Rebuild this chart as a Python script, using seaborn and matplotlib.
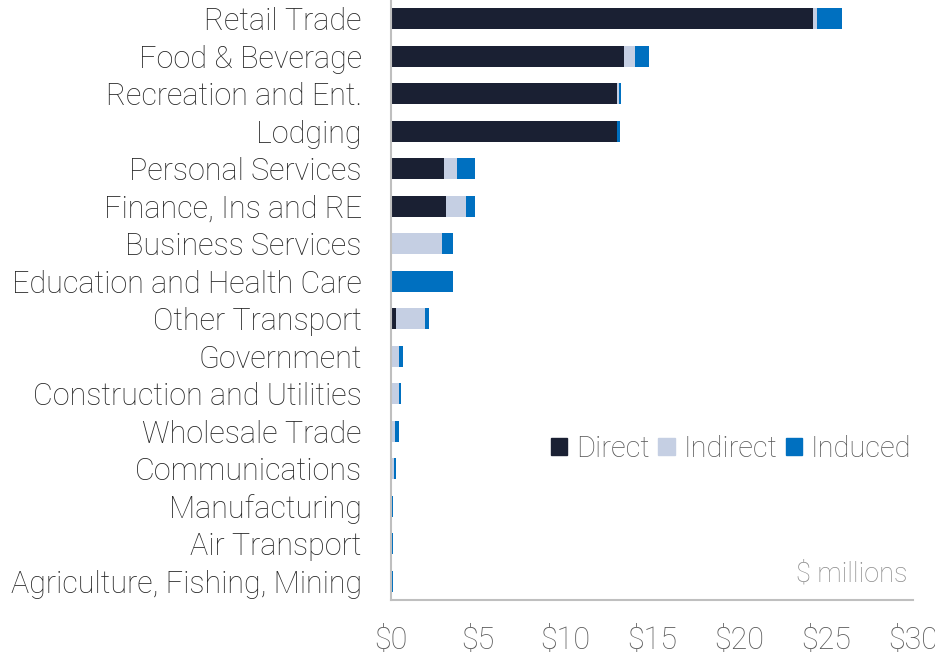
import pandas as pd
import matplotlib.pyplot as plt
import numpy as np
import seaborn as sns

# values in $ millions
sectors = ["Retail Trade", "Food & Beverage", "Recreation and Ent.", "Lodging",
           "Personal Services", "Finance, Ins and RE", "Business Services",
           "Education and Health Care", "Other Transport", "Government",
           "Construction and Utilities", "Wholesale Trade", "Communications",
           "Manufacturing", "Air Transport", "Agriculture, Fishing, Mining"]
direct = [24.27, 13.37, 12.97, 12.97, 3.04, 3.16, 0.0, 0.0, 0.29, 0.0,
          0.0, 0.0, 0.0, 0.0, 0.0, 0.0]
indirect = [0.23, 0.63, 0.11, 0.02, 0.77, 1.15, 2.93, 0.05, 1.66, 0.46,
            0.46, 0.23, 0.17, 0.05, 0.07, 0.07]
induced = [1.43, 0.86, 0.17, 0.15, 1.0, 0.52, 0.63, 3.51, 0.23, 0.23,
           0.12, 0.23, 0.12, 0.10, 0.04, 0.04]
xticks = [0, 5, 10, 15, 20, 25, 30]

c_direct = "#1a2033"
c_indirect = "#c5cfe3"
c_induced = "#0070c0"

df = pd.DataFrame({"Sector": sectors, "Direct": direct,
                   "Indirect": indirect, "Induced": induced})
df["s1"] = df["Direct"]
df["s2"] = df["s1"] + df["Indirect"]
df["s3"] = df["s2"] + df["Induced"]

sns.set_style("white")
plt.rcParams['font.family'] = ['Roboto', 'DejaVu Sans']

fig = plt.figure(figsize=(9.35, 6.57), dpi=100)
ax = fig.add_axes([0.418, 0.0868, 0.5585, 0.9132])

# stacked bars: draw totals first, then overlay the lower segments
for col, colr in [("s3", c_induced), ("s2", c_indirect), ("s1", c_direct)]:
    sns.barplot(data=df, x=col, y="Sector", color=colr, width=0.56,
                saturation=1, ax=ax, orient="h", linewidth=0)

ax.set_xlim(0, 30)
ax.set_ylim(15.5, -0.5)
ax.set_xticks(xticks)
ax.set_xticklabels(["$" + str(t) for t in xticks])
ax.set_xlabel("")
ax.set_ylabel("")
ax.tick_params(axis="x", length=0, pad=19, labelsize=22, labelcolor="#595959")
ax.tick_params(axis="y", length=0, pad=21, labelsize=22, labelcolor="#262626")
for lab in ax.get_xticklabels() + ax.get_yticklabels():
    lab.set_fontweight("light")

sns.despine(ax=ax, top=True, right=True)
ax.spines["left"].set_color("#bfbfbf")
ax.spines["bottom"].set_color("#bfbfbf")
ax.spines["left"].set_linewidth(1.5)
ax.spines["bottom"].set_linewidth(1.5)

handles = [plt.Rectangle((0, 0), 1, 1, color=c) for c in [c_direct, c_indirect, c_induced]]
leg = ax.legend(handles, ["Direct", "Indirect", "Induced"], loc="center right",
                bbox_to_anchor=(1.03, 0.252), ncol=3, frameon=False,
                handlelength=0.55, handleheight=0.55, handletextpad=0.3,
                columnspacing=0.3, borderaxespad=0.2,
                prop={"size": 21, "weight": "light"})
for t in leg.get_texts():
    t.set_color("#595959")

ax.text(0.989, 0.043, "$ millions", transform=ax.transAxes, ha="right",
        va="center", fontsize=19.5, fontweight="light", color="#8c8c8c")

fig.savefig("out.png", dpi=100)
